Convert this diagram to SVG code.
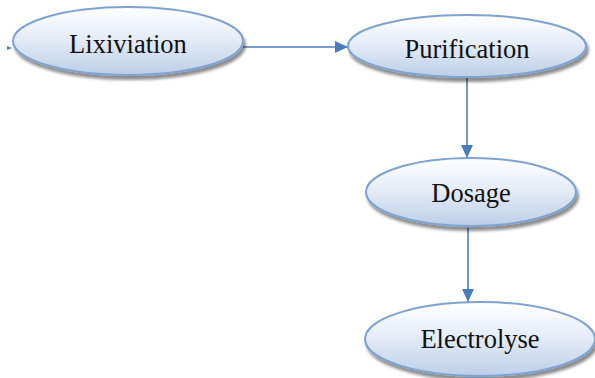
<svg xmlns="http://www.w3.org/2000/svg" width="595" height="378" viewBox="0 0 595 378">
<defs>
<linearGradient id="g" x1="0" y1="0" x2="0" y2="1">
<stop offset="0" stop-color="#ffffff"/>
<stop offset="0.45" stop-color="#e6edf7"/>
<stop offset="1" stop-color="#bccfe8"/>
</linearGradient>
<filter id="sh" x="-10%" y="-20%" width="125%" height="150%">
<feGaussianBlur in="SourceAlpha" stdDeviation="1.5"/>
<feOffset dx="2" dy="4" result="b"/>
<feComponentTransfer><feFuncA type="linear" slope="0.45"/></feComponentTransfer>
<feMerge><feMergeNode/><feMergeNode in="SourceGraphic"/></feMerge>
</filter>
<marker id="ah" markerWidth="14" markerHeight="12" refX="13" refY="6" orient="auto" markerUnits="userSpaceOnUse">
<path d="M0,0 L13,6 L0,12 Z" fill="#4a7ebb"/>
</marker>
</defs>
<style>
.n ellipse{fill:url(#g);stroke:#7ea3cf;stroke-width:2;filter:url(#sh)}
.n text{font-family:"Liberation Serif","Times New Roman",serif;font-size:26.5px;fill:#111;text-anchor:middle}
.c line{stroke:#4a7ebb;stroke-width:1.6;marker-end:url(#ah)}
</style>
<g id="connectors" class="c">
<line x1="243" y1="47" x2="348" y2="47"/>
<line x1="467" y1="78" x2="467" y2="158"/>
<line x1="468" y1="228" x2="468" y2="302"/>
<path d="M7,46 L12,48 L7,50 Z" fill="#4a7ebb"/>
</g>
<g id="lixiviation" class="n">
<ellipse cx="128" cy="41" rx="115" ry="34"/>
<text x="128" y="53">Lixiviation</text>
</g>
<g id="purification" class="n">
<ellipse cx="467" cy="46" rx="119" ry="31"/>
<text x="467" y="58">Purification</text>
</g>
<g id="dosage" class="n">
<ellipse cx="471" cy="192" rx="105" ry="34"/>
<text x="471" y="202">Dosage</text>
</g>
<g id="electrolyse" class="n">
<ellipse cx="480" cy="339" rx="115" ry="37"/>
<text x="480" y="348">Electrolyse</text>
</g>
</svg>
